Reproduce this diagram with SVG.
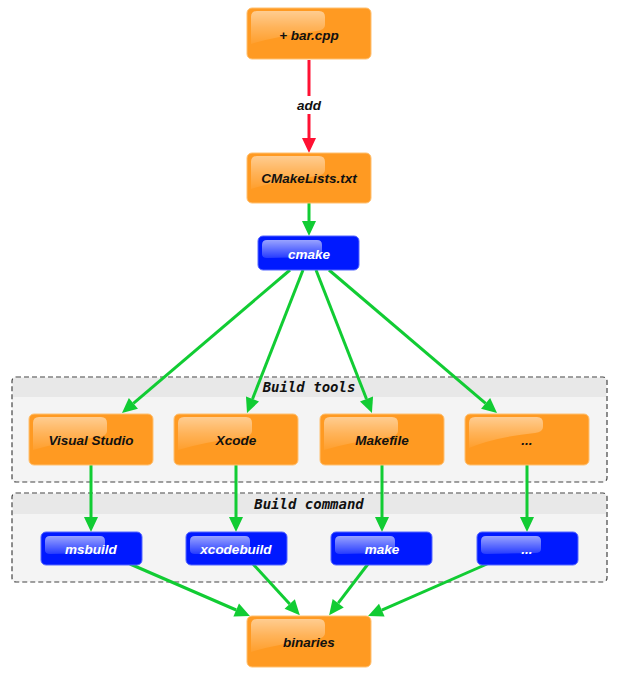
<svg xmlns="http://www.w3.org/2000/svg" xmlns:xlink="http://www.w3.org/1999/xlink" width="618" height="680" viewBox="0 0 618 680">
<style>
.cl{fill:#f4f4f4;stroke:#444;stroke-width:1.2;stroke-dasharray:5,3}
.clh{fill:#e8e8e8}
.cll{font-family:"DejaVu Sans Mono","Liberation Mono",monospace;font-weight:bold;font-style:italic;font-size:14px;fill:#111;text-anchor:middle}
.o{fill:#ff9a22;stroke:#ffc070;stroke-width:1}
.b{fill:#0019ff;stroke:#5566ff;stroke-width:1}
.t{font-family:"Liberation Sans",Arial,sans-serif;font-weight:bold;font-style:italic;font-size:13.5px;text-anchor:middle}
.to{fill:#111}
.tb{fill:#fff}
.e{fill:none;stroke:#11cc33;stroke-width:3}
.er{fill:none;stroke:#ff1133;stroke-width:3}
</style>
<defs>
<linearGradient id="gh" x1="0" y1="0" x2="0" y2="1">
<stop offset="0" stop-color="#fff" stop-opacity="0.5"/>
<stop offset="0.5" stop-color="#fff" stop-opacity="0.25"/>
<stop offset="1" stop-color="#fff" stop-opacity="0.05"/>
</linearGradient>
<linearGradient id="ghb" x1="0" y1="0" x2="0" y2="1">
<stop offset="0" stop-color="#fff" stop-opacity="0.6"/>
<stop offset="1" stop-color="#fff" stop-opacity="0.15"/>
</linearGradient>
<marker id="ag" markerUnits="userSpaceOnUse" markerWidth="16" markerHeight="15" refX="0" refY="7" orient="auto" overflow="visible">
<path d="M0,0 L15,7 L0,14 Z" fill="#11cc33"/>
</marker>
<marker id="ar" markerUnits="userSpaceOnUse" markerWidth="16" markerHeight="15" refX="0" refY="7" orient="auto" overflow="visible">
<path d="M0,0 L15,7 L0,14 Z" fill="#ff1133"/>
</marker>
<path id="hlo" d="M4,9 Q4,3 10,3 L72,3 Q78,3 78,9 L78,17 Q78,22 70,23 Q30,28 4,36 Z" fill="url(#gh)"/>
<path id="hlo2" d="M4,9 Q4,3 10,3 L72,3 Q78,3 78,9 L78,13 Q78,18 70,19 Q30,23 4,34 Z" fill="url(#gh)"/>
<path id="hlb" d="M4,9 Q4,4 9,4 L59,4 Q64,4 64,9 L64,17 Q64,21 58,21 L9,22 Q4,22 4,18 Z" fill="url(#ghb)"/>
</defs>
<rect width="618" height="680" fill="#fff"/>

<g id="cluster_tools">
<rect class="cl" x="12" y="377" width="595" height="105" rx="4"/>
<path class="clh" d="M13,397 L13,381 Q13,378 16,378 L603,378 Q606,378 606,381 L606,397 Z"/>
<text class="cll" x="309" y="392">Build tools</text>
</g>
<g id="cluster_command">
<rect class="cl" x="12" y="493" width="595" height="89" rx="4"/>
<path class="clh" d="M13,514 L13,497 Q13,494 16,494 L603,494 Q606,494 606,497 L606,514 Z"/>
<text class="cll" x="309" y="509">Build command</text>
</g>

<g id="connectors">
<line class="er" x1="309" y1="60" x2="309" y2="138" marker-end="url(#ar)"/>
<rect x="294" y="96" width="30" height="18" fill="#fff"/>
<text class="t to" x="309" y="110">add</text>
<line class="e" x1="309" y1="202" x2="309" y2="221" marker-end="url(#ag)"/>
<line class="e" x1="290" y1="270" x2="133.4" y2="403.3" marker-end="url(#ag)"/>
<line class="e" x1="303" y1="270" x2="252.5" y2="399" marker-end="url(#ag)"/>
<line class="e" x1="316" y1="270" x2="366.5" y2="399" marker-end="url(#ag)"/>
<line class="e" x1="329" y1="270" x2="485.6" y2="403.3" marker-end="url(#ag)"/>
<line class="e" x1="91" y1="465" x2="91" y2="517" marker-end="url(#ag)"/>
<line class="e" x1="236" y1="465" x2="236" y2="517" marker-end="url(#ag)"/>
<line class="e" x1="382" y1="465" x2="382" y2="517" marker-end="url(#ag)"/>
<line class="e" x1="527" y1="465" x2="527" y2="517" marker-end="url(#ag)"/>
<line class="e" x1="130" y1="564" x2="236.2" y2="610" marker-end="url(#ag)"/>
<line class="e" x1="253" y1="564" x2="289.7" y2="604.1" marker-end="url(#ag)"/>
<line class="e" x1="368" y1="564" x2="338.2" y2="603.2" marker-end="url(#ag)"/>
<line class="e" x1="487" y1="564" x2="381.8" y2="610.1" marker-end="url(#ag)"/>
</g>

<g id="bar_cpp">
<rect class="o" x="247" y="8" width="124" height="51" rx="5"/>
<use xlink:href="#hlo" x="247" y="8"/>
<text class="t to" x="309" y="40">+ bar.cpp</text>
</g>
<g id="cmakelists">
<rect class="o" x="247" y="153" width="124" height="50" rx="5"/>
<use xlink:href="#hlo" x="247" y="153"/>
<text class="t to" x="309" y="183">CMakeLists.txt</text>
</g>
<g id="cmake">
<rect class="b" x="258" y="236" width="101" height="34" rx="5"/>
<use xlink:href="#hlb" x="258" y="236"/>
<text class="t tb" x="309" y="259">cmake</text>
</g>

<g id="visual_studio">
<rect class="o" x="29" y="414" width="124" height="51" rx="5"/>
<use xlink:href="#hlo" x="29" y="414"/>
<text class="t to" x="91" y="445">Visual Studio</text>
</g>
<g id="xcode">
<rect class="o" x="174" y="414" width="124" height="51" rx="5"/>
<use xlink:href="#hlo" x="174" y="414"/>
<text class="t to" x="236" y="445">Xcode</text>
</g>
<g id="makefile">
<rect class="o" x="320" y="414" width="124" height="51" rx="5"/>
<use xlink:href="#hlo" x="320" y="414"/>
<text class="t to" x="382" y="445">Makefile</text>
</g>
<g id="tools_more">
<rect class="o" x="465" y="414" width="124" height="51" rx="5"/>
<use xlink:href="#hlo2" x="465" y="414"/>
<text class="t to" x="527" y="445">...</text>
</g>

<g id="msbuild">
<rect class="b" x="41" y="532" width="101" height="33" rx="5"/>
<use xlink:href="#hlb" x="41" y="532"/>
<text class="t tb" x="91" y="554">msbuild</text>
</g>
<g id="xcodebuild">
<rect class="b" x="186" y="532" width="101" height="33" rx="5"/>
<use xlink:href="#hlb" x="186" y="532"/>
<text class="t tb" x="236" y="554">xcodebuild</text>
</g>
<g id="make">
<rect class="b" x="331" y="532" width="101" height="33" rx="5"/>
<use xlink:href="#hlb" x="331" y="532"/>
<text class="t tb" x="382" y="554">make</text>
</g>
<g id="command_more">
<rect class="b" x="477" y="532" width="101" height="33" rx="5"/>
<use xlink:href="#hlb" x="477" y="532"/>
<text class="t tb" x="527" y="554">...</text>
</g>

<g id="binaries">
<rect class="o" x="247" y="616" width="124" height="51" rx="5"/>
<use xlink:href="#hlo" x="247" y="616"/>
<text class="t to" x="309" y="647">binaries</text>
</g>
</svg>
